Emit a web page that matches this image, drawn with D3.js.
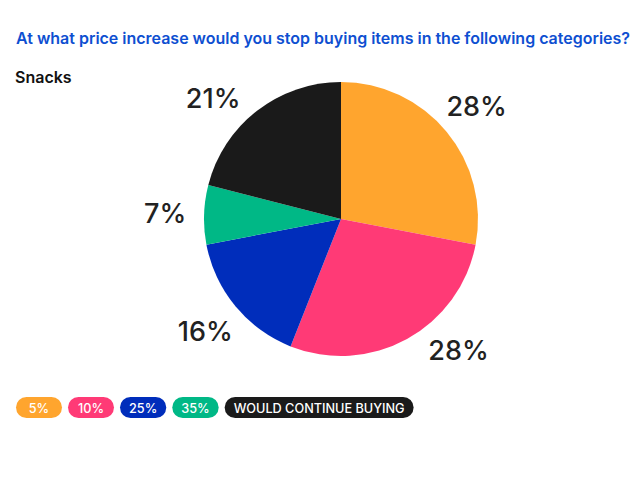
<!DOCTYPE html>
<html>
<head>
<meta charset="utf-8">
<script src="https://cdn.jsdelivr.net/npm/d3@7"></script>
<style>
  body { margin: 0; background: #fff; }
  svg { display: block; font-family: Inter, "Noto Sans", sans-serif; }
</style>
</head>
<body>
<svg id="chart"></svg>
<script>
var categories = ["5%", "10%", "25%", "35%", "WOULD CONTINUE BUYING"];
var values = [28, 28, 16, 7, 21];
var valueLabels = ["28%", "28%", "16%", "7%", "21%"];
var colors = ["#FFA52E", "#FF3A76", "#002DBB", "#00B886", "#1A1A1A"];

var svgWidth = 634, svgHeight = 484;
var cx = 341, cy = 219, radius = 137, labelRadius = 176;

var svg = d3.select("#chart")
  .attr("width", svgWidth)
  .attr("height", svgHeight);

svg.append("text")
  .attr("x", 16)
  .attr("y", 44)
  .attr("fill", "#0E4FD1")
  .attr("font-size", 16)
  .attr("font-weight", 600)
  .attr("textLength", 614)
  .attr("lengthAdjust", "spacingAndGlyphs")
  .text("At what price increase would you stop buying items in the following categories?");

svg.append("text")
  .attr("x", 15)
  .attr("y", 83)
  .attr("fill", "#111")
  .attr("font-size", 16)
  .attr("font-weight", 600)
  .text("Snacks");

var pie = d3.pie().sort(null).value(function (d) { return d; });
var arcs = pie(values);
var arc = d3.arc().innerRadius(0).outerRadius(radius);

var g = svg.append("g").attr("transform", "translate(" + cx + "," + cy + ")");

g.selectAll("path")
  .data(arcs)
  .enter()
  .append("path")
  .attr("d", arc)
  .attr("fill", function (d, i) { return colors[i]; });

// labels sit on a circle, but are kept inside the plot band vertically
var minY = -121, maxY = 131;
g.selectAll("text.val")
  .data(arcs)
  .enter()
  .append("text")
  .attr("class", "val")
  .attr("text-anchor", "middle")
  .attr("dominant-baseline", "central")
  .attr("font-size", 27)
  .attr("font-weight", 500)
  .attr("fill", "#222")
  .attr("transform", function (d) {
    var a = (d.startAngle + d.endAngle) / 2;
    var x = labelRadius * Math.sin(a), y = -labelRadius * Math.cos(a);
    var yc = Math.max(minY, Math.min(maxY, y));
    if (yc !== y) {
      x = Math.sign(x) * Math.sqrt(labelRadius * labelRadius - yc * yc);
      y = yc;
    }
    return "translate(" + x + "," + y + ")";
  })
  .text(function (d, i) { return valueLabels[i]; });

// legend pills
var legend = svg.append("g").attr("transform", "translate(16, 397)");
var xPos = 0;
categories.forEach(function (c, i) {
  var item = legend.append("g").attr("transform", "translate(" + xPos + ",0)");
  var rect = item.append("rect")
    .attr("height", 21)
    .attr("rx", 10.5)
    .attr("fill", colors[i]);
  var t = item.append("text")
    .attr("y", 11)
    .attr("text-anchor", "middle")
    .attr("dominant-baseline", "central")
    .attr("fill", "#fff")
    .attr("font-size", 12.7)
    .attr("font-weight", 500)
    .text(c);
  var w = Math.max(t.node().getComputedTextLength() + 18, 46);
  rect.attr("width", w);
  t.attr("x", w / 2);
  xPos += w + 6;
});
</script>
</body>
</html>
